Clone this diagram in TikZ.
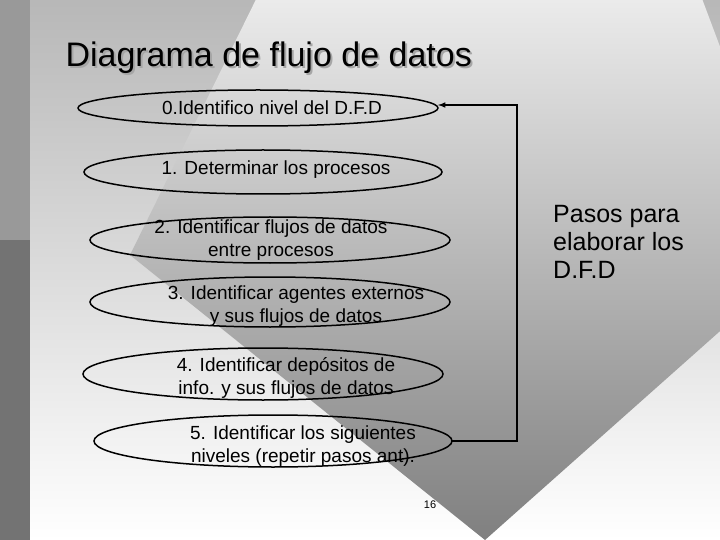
\documentclass[tikz,border=0pt]{standalone}
\usepackage{fontspec}
\setmainfont{Liberation Sans}
\begin{document}
\begin{tikzpicture}[x=1bp,y=-1bp,
  lbl/.style={align=center,font=\fontsize{19bp}{23bp}\selectfont,inner sep=0pt}]
\useasboundingbox (0,0) rectangle (720,540);
\shade[top color=black!28,bottom color=white] (0,0) rectangle (720,540);
\shade[top color=white,bottom color=black!50] (305,-100)--(130,255)--(485,540)--(800,260)--(665,-100)--cycle;
\fill[black!40] (0,0) rectangle (30,240);
\fill[black!55] (0,240) rectangle (30,540);
\node[anchor=west,font=\fontsize{34bp}{36bp}\selectfont,text=black!35] at (64,60) {Diagrama de flujo de datos};
\node[anchor=west,font=\fontsize{34bp}{36bp}\selectfont] (t) at (62,58) {Diagrama de flujo de datos};
\draw[line width=1.5bp] (258,108) ellipse (180 and 18);
\draw[line width=1.5bp] (263,172) ellipse (179 and 22);
\draw[line width=1.5bp] (270,240) ellipse (180 and 23);
\draw[line width=1.5bp] (270,302) ellipse (180 and 25);
\draw[line width=1.5bp] (263,374) ellipse (180 and 26);
\draw[line width=1.5bp] (273,441) ellipse (179 and 26);
\coordinate (e0) at (438,105);
\coordinate (e5) at (452,441);
\node[lbl] (n0) at (272,108) {0.Identifico nivel del D.F.D};
\node[lbl] (n1) at (276,170) {1. Determinar los procesos};
\node[lbl] (n2) at (271,240) {2. Identificar flujos de datos\\entre procesos};
\node[lbl] (n3) at (296,306) {3. Identificar agentes externos\\y sus flujos de datos};
\node[lbl] (n4) at (286,378) {4. Identificar depósitos de\\info. y sus flujos de datos};
\node[lbl] (n5) at (303,446) {5. Identificar los siguientes\\niveles (repetir pasos ant).};
\coordinate (c1) at (517,441);
\coordinate (c2) at (517,105);
\draw[line width=1.5bp,-latex] (e5)--(c1)--(c2)--(e0);
\node[anchor=north west,align=left,inner sep=0pt,font=\fontsize{25bp}{28bp}\selectfont] (p) at (553,205) {Pasos para\\elaborar los\\D.F.D};
\node[font=\fontsize{11bp}{12bp}\selectfont] (pg) at (430,505) {16};
\end{tikzpicture}
\end{document}
